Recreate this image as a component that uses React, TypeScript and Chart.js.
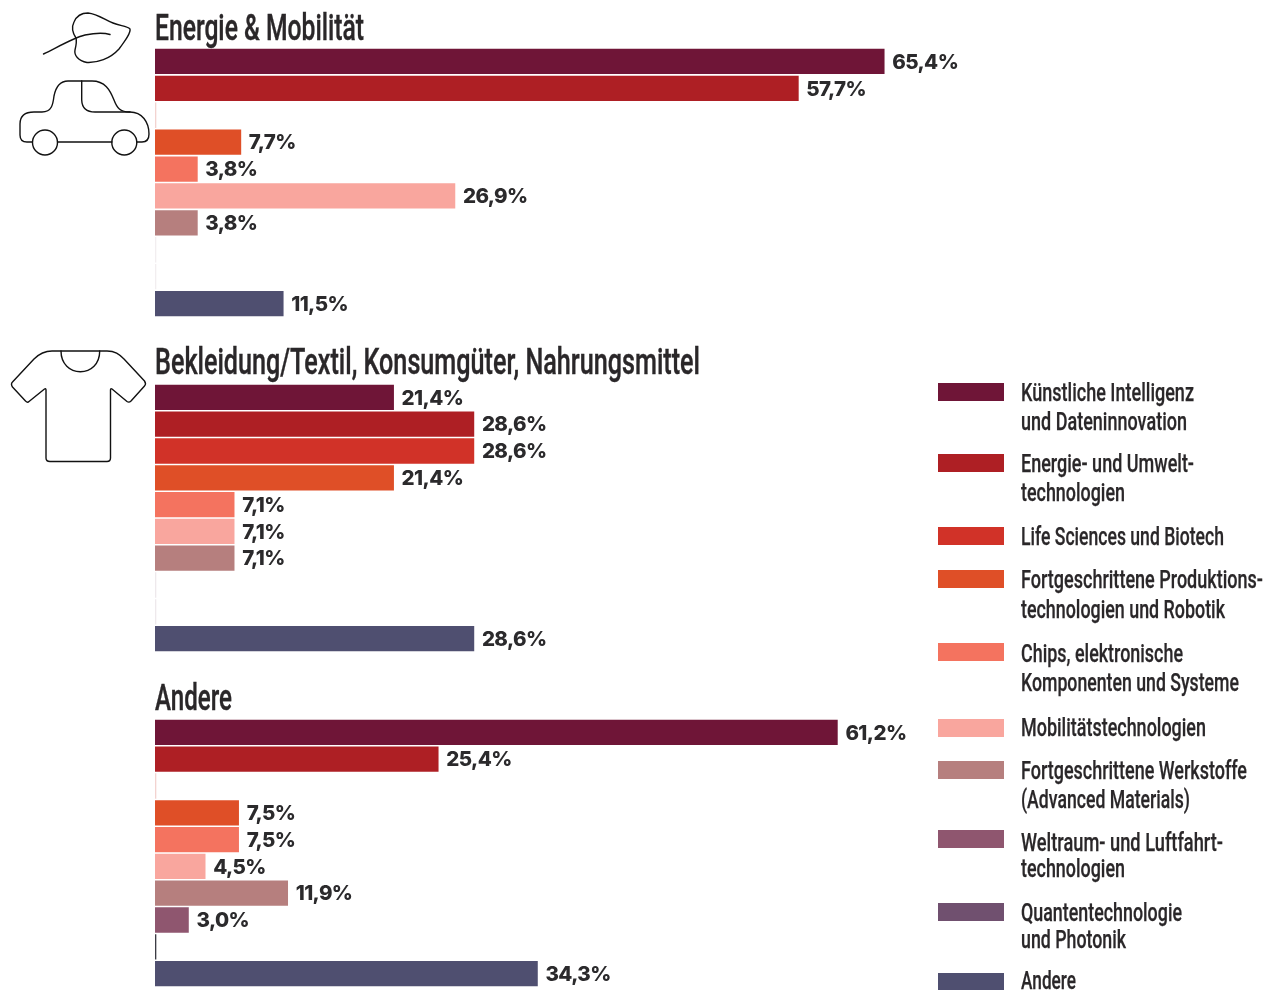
import React, { useEffect, useRef } from "react";
import { Chart, registerables } from "chart.js";

Chart.register(...registerables);

const categories = [
  "Künstliche Intelligenz und Dateninnovation",
  "Energie- und Umwelttechnologien",
  "Life Sciences und Biotech",
  "Fortgeschrittene Produktionstechnologien und Robotik",
  "Chips, elektronische Komponenten und Systeme",
  "Mobilitätstechnologien",
  "Fortgeschrittene Werkstoffe (Advanced Materials)",
  "Weltraum- und Luftfahrttechnologien",
  "Quantentechnologie und Photonik",
  "Andere",
];
const colors = ["#6f1537", "#ae1f24", "#d13228", "#df4f27", "#f4735f", "#f9a69e", "#b67f7e", "#8f566f", "#70506f", "#4f4f70"];

const energieValues = [65.4, 57.7, 0, 7.7, 3.8, 26.9, 3.8, 0, 0, 11.5];
const bekleidungValues = [21.4, 28.6, 28.6, 21.4, 7.1, 7.1, 7.1, 0, 0, 28.6];
const andereValues = [61.2, 25.4, 0, 7.5, 7.5, 4.5, 11.9, 3.0, 0, 34.3];

const energieZero = ["", "", "#f3d3d0", "", "", "", "", "#f2eef0", "#f2eef0", ""];
const bekleidungZero = ["", "", "", "", "", "", "", "#eee9ec", "#eee9ec", ""];
const andereZero = ["", "", "#f3d3d0", "", "", "", "", "", "#3c3c44", ""];

const titles = ["Energie & Mobilität", "Bekleidung/Textil, Konsumgüter, Nahrungsmittel", "Andere"];

const legendLines: [string, number, number][] = [
  ["Künstliche Intelligenz", 401, 173],
  ["und Dateninnovation", 429.5, 166],
  ["Energie- und Umwelt-", 472, 173],
  ["technologien", 500.5, 104],
  ["Life Sciences und Biotech", 545, 203],
  ["Fortgeschrittene Produktions-", 588, 242],
  ["technologien und Robotik", 618, 204],
  ["Chips, elektronische", 662, 162],
  ["Komponenten und Systeme", 691, 218],
  ["Mobilitätstechnologien", 736, 185],
  ["Fortgeschrittene Werkstoffe", 779, 226],
  ["(Advanced Materials)", 808, 169],
  ["Weltraum- und Luftfahrt-", 851, 202],
  ["technologien", 877, 104],
  ["Quantentechnologie", 921, 161],
  ["und Photonik", 948, 105],
  ["Andere", 989, 55],
];
const swatchTops = [383, 454, 527, 570, 643, 719, 761, 830, 903, 973];

const labelPlugin = {
  id: "valueLabels",
  afterDatasetsDraw(chart: any) {
    const { ctx, scales } = chart;
    const ds = chart.data.datasets[0];
    ctx.save();
    ctx.font = "800 20.5px Inter, sans-serif";
    ctx.letterSpacing = "-0.6px";
    ctx.fillStyle = "#2b2a2c";
    ctx.textBaseline = "middle";
    ds.data.forEach((v: number, i: number) => {
      if (!v) return;
      ctx.fillText(`${v.toFixed(1).replace(".", ",")}%`, scales.x.getPixelForValue(v) + 8, scales.y.getPixelForValue(i) + 1);
    });
    ctx.restore();
  },
};

function Bars({ values, zero, top, height }: { values: number[]; zero: string[]; top: number; height: number }) {
  const ref = useRef<HTMLCanvasElement>(null);
  useEffect(() => {
    const chart = new Chart(ref.current!, {
      type: "bar",
      plugins: [labelPlugin],
      data: {
        labels: categories,
        datasets: [
          {
            data: values,
            backgroundColor: values.map((v, i) => (v ? colors[i] : zero[i])),
            barThickness: 24.6,
            minBarLength: 1,
          },
        ],
      },
      options: {
        indexAxis: "y",
        animation: false,
        responsive: false,
        maintainAspectRatio: false,
        layout: { padding: 0 },
        plugins: { legend: { display: false }, tooltip: { enabled: false } },
        scales: {
          x: { display: false, min: 0, max: 80 },
          y: { display: false },
        },
      },
    });
    return () => chart.destroy();
  }, []);
  return <canvas ref={ref} width={892} height={height} style={{ position: "absolute", left: 155, top, width: 892, height }} />;
}

const ink = "#2a2729";
const stroke = { fill: "none", stroke: "#111", strokeWidth: 1.4, strokeLinejoin: "round" as const, strokeLinecap: "round" as const };
const condensed = "Roboto, sans-serif";

export default function App() {
  return (
    <div style={{ position: "fixed", left: 0, top: 0, width: 1279, height: 990, background: "#fff", overflow: "hidden" }}>
      <Bars values={energieValues} zero={energieZero} top={48} height={269} />
      <Bars values={bekleidungValues} zero={bekleidungZero} top={384} height={268} />
      <Bars values={andereValues} zero={andereZero} top={719} height={268} />
      <svg width={1279} height={990} style={{ position: "absolute", left: 0, top: 0 }}>
        <g {...stroke}>
          <path d="M43.5 54 C58 47 73 38 85 35 C95 33 105 33 110 34.5" />
          <path d="M76 38 C72 32 72 26 74 22 C77 15 82 13 88 13 C98 14 105 20 113 23 C120 26 127 26 130 29 C131 33 125 41 119 49 C110 59 97 63 87 62.5 C78 61 74 55 75 50 C76 46 77 42 76 38 Z" />
          <path d="M32 142 L27 142 Q20 142 20 135 L20 124 Q20 112 34 112 L42 112 C52 112 53 104 54 96 C56 86 60 81 68 81 L92 81 C105 81 110 90 114 100 C117 108 120 112 130 112 C142 112 149 122 149 134 Q149 142 142 142 L137 142" />
          <path d="M57.5 142 L112 142" />
          <circle cx={45} cy={142.5} r={12.5} />
          <circle cx={124.3} cy={142.5} r={12.5} />
          <path d="M81.7 81 L81.7 100 C82 108 86 112 95 112 L130 112" />
          <path d="M61 351 C61 364 70 371.7 80.3 371.7 C91 371.7 99.7 364 99.7 351" />
          <path d="M52 351 L107 351 C115 351 119 354 124 359 L144.5 381 Q146.5 384 144.5 386 L131 401 Q129 403 127 401.5 L112 389 Q110.5 388 110.5 390 L110.5 458 Q110.5 461.5 107 461.5 L50 461.5 Q46 461.5 46 458 L46 390 Q46 388 44.5 389 L29 401.5 Q27.5 403 25.5 401 L12.5 387 Q10.5 384 12.5 382 L34 359 C39 354 44 351 52 351 Z" />
        </g>
        <g fontFamily={condensed} fontWeight={500} fill={ink} stroke={ink} strokeWidth={0.4}>
          <text x={155} y={39.5} fontSize={37} textLength={209} lengthAdjust="spacingAndGlyphs">{titles[0]}</text>
          <text x={155} y={373.5} fontSize={37} textLength={545} lengthAdjust="spacingAndGlyphs">{titles[1]}</text>
          <text x={155} y={709.5} fontSize={37} textLength={77} lengthAdjust="spacingAndGlyphs">{titles[2]}</text>
        </g>
        {colors.map((c, i) => (
          <rect key={c} x={938} y={swatchTops[i]} width={66} height={18} fill={c} />
        ))}
        <g fontFamily={condensed} fontWeight={500} fill={ink} stroke={ink} strokeWidth={0.25} fontSize={26.5}>
          {legendLines.map(([t, y, w], i) => (
            <text key={i} x={1021} y={y} textLength={w} lengthAdjust="spacingAndGlyphs">{t}</text>
          ))}
        </g>
      </svg>
    </div>
  );
}
